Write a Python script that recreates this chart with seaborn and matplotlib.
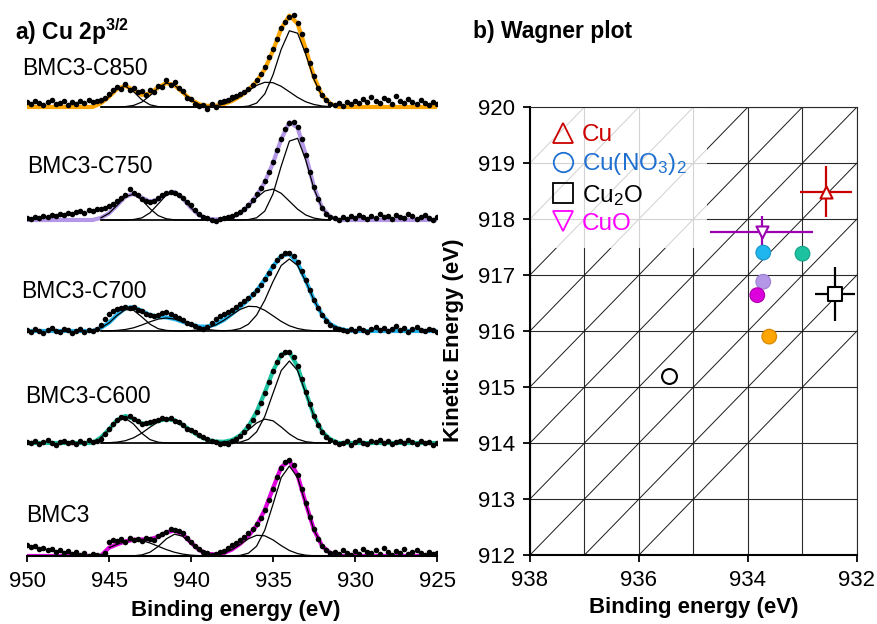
import numpy as np
import matplotlib
matplotlib.use("Agg")
import matplotlib.pyplot as plt
import seaborn as sns
from matplotlib.lines import Line2D
from matplotlib.patches import Rectangle

sns.set_theme(style="white")
plt.rcParams["font.family"] = ["Liberation Sans", "DejaVu Sans"]
plt.rcParams["mathtext.fontset"] = "custom"
plt.rcParams["mathtext.rm"] = "Liberation Sans"
plt.rcParams["mathtext.it"] = "Liberation Sans:italic"
plt.rcParams["mathtext.bf"] = "Liberation Sans:bold"
plt.rcParams["axes.unicode_minus"] = False
plt.rcParams["text.color"] = "black"
plt.rcParams["axes.labelcolor"] = "black"
plt.rcParams["xtick.color"] = "black"
plt.rcParams["ytick.color"] = "black"

# ======================= DATA : panel a (XPS Cu 2p3/2) =======================
spectra = ["BMC3-C850", "BMC3-C750", "BMC3-C700", "BMC3-C600", "BMC3"]
offsets = [449, 336, 225, 113, 0]
env_colors = ["#FFA500", "#B497E7", "#1FB5EE", "#1DC3A0", "#DD00DD"]

# measured points (0.25 eV steps, 950 -> 925 eV)
dots_c850 = [5, 3, 6, 4, 2, 5, 7, 3, 4, 6, 2, 5, 3, 6, 4, 7, 5, 6,
             7, 9, 13, 17, 20, 18, 23, 17, 19, 15,
             16, 12, 17, 15, 21, 20, 27, 22, 25, 19,
             16, 9, 8, 3, 1, 2, -2, 3, 0, 5,
             6, 7, 10, 11, 13, 15, 18, 22, 27, 33,
             40, 50, 58, 68, 79, 85, 90, 92, 84, 73,
             57, 44, 31, 19, 12, 7, 3,
             2, 4, 1, 5, 3, 6, 4, 8, 5, 10, 6, 4, 9, 7, 3, 11, 6, 4, 8, 5, 3, 7, 4, 2, 5, 3]
dots_c750 = [2, 1, 3, 2, 4, 3, 5, 4, 6, 5, 7, 6, 8, 9, 7, 10, 9, 11,
             11, 12, 14, 16, 19, 22, 25, 31, 27, 25,
             21, 19, 18, 19, 22, 25, 27, 28, 27, 25,
             22, 18, 15, 10, 6, 3, 2, 0, -1, 1,
             2, 3, 4, 6, 8, 11, 15, 20, 26, 32,
             39, 48, 58, 70, 81, 91, 97, 98, 93, 81,
             65, 48, 33, 21, 12, 6, 3,
             2, 0, 3, 1, 4, 2, 5, 3, 1, 4, 2, 6, 3, 4, 1, 5, 3, 2, 6, 4, 1, 3, 5, 2, 0, 3]
dots_c700 = [1, -1, 2, 0, -2, 1, 3, 0, -1, 2, 1, -2, 0, 2, -1, 1, 0, 2,
             6, 12, 17, 20, 22, 23, 24, 23, 24, 21,
             20, 17, 16, 15, 16, 18, 19, 17, 15, 13,
             11, 8, 7, 5, 3, 2, 4, 8, 12, 15,
             17, 19, 21, 24, 27, 30, 33, 37, 41, 46,
             52, 58, 65, 71, 75, 78, 78, 75, 69, 60,
             51, 41, 31, 23, 16, 10, 6, 3, 2, 1, 0,
             2, 0, 3, 1, -1, 2, 4, 1, 3, 0, 2, 5, 1, 3, -1, 2, 4, 1, 0, 2, 1, -1]
dots_c600 = [1, 0, 2, -1, 1, 3, 0, -2, 1, 2, 0, 1, -1, 2, 0, 3, 1, 2,
             4, 9, 14, 19, 23, 26, 25, 27, 24, 22,
             19, 20, 21, 22, 23, 25, 24, 25, 22, 21,
             18, 14, 13, 11, 8, 6, 4, 2, 1, -1,
             0, -1, 2, 4, 7, 11, 17, 23, 31, 40,
             50, 61, 72, 81, 88, 91, 91, 86, 77, 64,
             51, 39, 27, 18, 11, 6, 3,
             1, -1, 0, 2, -2, 1, 3, 0, -1, 2, 1, 3, 0, 2, -1, 1, 2, 0, 3, 1, -1, 2, 0, 1, -2, 0]
dots_bmc3 = [11, 9, 10, 7, 8, 6, 7, 4, 6, 3, 5, 2, 4, 1, 3, 0, 2, 1, 0, 3,
             14, 16, 15, 17, 14, 18, 16, 17, 15, 18,
             17, 16, 20, 22, 24, 27, 26, 25, 23, 18,
             14, 10, 7, 4, 3, 1, 2, 4, 5, 8,
             11, 13, 16, 19, 23, 27, 32, 38, 46, 56,
             67, 79, 88, 94, 96, 91, 81, 67, 53, 39,
             27, 17, 10, 6, 3,
             4, 2, 6, 3, 1, 5, 2, 7, 4, 3, 6, 2, 8, 4, 1, 5, 3, 7, 2, 4, 6, 3, 1, 4, 2, 3]
dots_all = [dots_c850, dots_c750, dots_c700, dots_c600, dots_bmc3]

# fitted components (0.5 eV steps starting at fit_start)
fit_start = [945.5, 945.5, 945.5, 945.5, 945.0]

comp_c850 = {
    "sat1": [3.7, 10.2, 18.2, 20.8, 15.3, 7.2, 2.2, 0.4, 0.1, 0,
             0, 0, 0, 0, 0, 0, 0, 0, 0, 0,
             0, 0, 0, 0, 0, 0, 0, 0, 0],
    "sat2": [0, 0, 0, 0.4, 1.6, 4.9, 11.4, 19.2, 23.9, 21.7,
             14.6, 7.2, 2.6, 0.7, 0.1, 0, 0, 0, 0, 0,
             0, 0, 0, 0, 0, 0, 0, 0, 0],
    "shoulder": [0, 0, 0, 0, 0, 0, 0, 0, 0, 0,
                 0, 0, 0.1, 0.4, 1.2, 2.9, 6.0, 10.6, 16.3, 21.6,
                 24.7, 24.3, 20.7, 15.2, 9.6, 5.2, 2.5, 1.0, 0.3],
    "main": [0, 0, 0, 0, 0, 0, 0, 0, 0, 0,
             0, 0, 0, 0, 0, 0, 0, 0.1, 0.9, 3.9,
             13.1, 32.1, 57.7, 76.2, 73.8, 52.6, 27.4, 10.6, 3.0],
}
comp_c750 = {
    "sat1": [2.1, 6.7, 14.8, 23.3, 25.8, 20.3, 11.3, 4.4, 1.2, 0.2,
             0, 0, 0, 0, 0, 0, 0, 0, 0, 0,
             0, 0, 0, 0, 0, 0, 0, 0, 0],
    "sat2": [0, 0, 0, 0.1, 0.5, 2.1, 7.2, 16.0, 25.1, 27.8,
             21.8, 12.1, 4.8, 1.3, 0.3, 0, 0, 0, 0, 0,
             0, 0, 0, 0, 0, 0, 0, 0, 0],
    "shoulder": [0, 0, 0, 0, 0, 0, 0, 0, 0, 0,
                 0, 0, 0, 0, 0.3, 1.0, 2.9, 7.0, 13.8, 22.2,
                 29.0, 30.9, 26.7, 18.8, 10.8, 5.0, 1.9, 0.6, 0.1],
    "main": [0, 0, 0, 0, 0, 0, 0, 0, 0, 0,
             0, 0, 0, 0, 0, 0, 0, 0, 0.4, 2.2,
             8.9, 26.1, 53.9, 78.9, 81.7, 59.8, 31.0, 11.4, 2.9],
}
comp_c700 = {
    "sat1": [3.0, 8.1, 15.7, 21.4, 20.7, 14.1, 6.8, 2.3, 0.6, 0.1,
             0, 0, 0, 0, 0, 0, 0, 0, 0, 0,
             0, 0, 0, 0, 0, 0, 0, 0, 0, 0,
             0],
    "sat2": [0.1, 0.2, 0.6, 1.5, 3.2, 6.0, 9.2, 11.9, 13.0, 11.9,
             9.2, 6.0, 3.2, 1.5, 0.6, 0.2, 0.1, 0, 0, 0,
             0, 0, 0, 0, 0, 0, 0, 0, 0, 0,
             0],
    "shoulder": [0, 0, 0, 0, 0, 0, 0, 0, 0, 0,
                 0, 0.4, 1.2, 2.9, 6.0, 10.6, 16.3, 21.6, 24.7, 24.3,
                 20.7, 15.2, 9.6, 5.2, 2.5, 1.0, 0.3, 0.1, 0, 0,
                 0],
    "main": [0, 0, 0, 0, 0, 0, 0, 0, 0, 0,
             0, 0, 0, 0, 0, 0.2, 0.7, 2.4, 6.8, 15.9,
             30.8, 49.4, 65.5, 72.0, 65.5, 49.4, 30.8, 15.9, 6.8, 2.4,
             0.7],
}
comp_c600 = {
    "sat1": [5.4, 13.3, 22.1, 24.8, 18.9, 9.7, 3.4, 0.8, 0.1, 0,
             0, 0, 0, 0, 0, 0, 0, 0, 0, 0,
             0, 0, 0, 0, 0, 0, 0, 0, 0],
    "sat2": [0.1, 0.3, 0.9, 2.3, 5.2, 9.9, 15.8, 21.2, 23.9, 22.7,
             18.1, 12.2, 6.9, 3.2, 1.3, 0.4, 0.1, 0, 0, 0,
             0, 0, 0, 0, 0, 0, 0, 0, 0],
    "shoulder": [0, 0, 0, 0, 0, 0, 0, 0, 0, 0,
                 0, 0, 0, 0, 0.2, 0.8, 2.6, 6.7, 13.1, 20.0,
                 23.9, 22.2, 16.0, 9.0, 3.9, 1.3, 0.4, 0.1, 0],
    "main": [0, 0, 0, 0, 0, 0, 0, 0, 0, 0,
             0, 0, 0, 0, 0, 0, 0.2, 0.9, 3.6, 11.1,
             26.6, 49.7, 72.4, 82.0, 72.4, 49.7, 26.6, 11.1, 3.6],
}
comp_bmc3 = {
    "sat1": [8.3, 11.7, 14.6, 16.0, 15.4, 13.0, 9.7, 6.4, 3.7, 1.9,
             0.8, 0.3, 0.1, 0, 0, 0, 0, 0, 0, 0,
             0, 0, 0, 0, 0, 0, 0, 0],
    "sat2": [0, 0, 0, 0.2, 1.1, 3.8, 9.5, 17.2, 21.8, 19.7,
             12.6, 5.7, 1.8, 0.4, 0.1, 0, 0, 0, 0, 0,
             0, 0, 0, 0, 0, 0, 0, 0],
    "shoulder": [0, 0, 0, 0, 0, 0, 0, 0, 0, 0,
                 0, 0, 0.3, 1.0, 2.8, 6.4, 11.6, 17.2, 20.7, 20.2,
                 16.1, 10.4, 5.5, 2.4, 0.8, 0.2, 0.1, 0],
    "main": [0, 0, 0, 0, 0, 0, 0, 0, 0, 0,
             0, 0, 0, 0, 0, 0.1, 0.6, 2.8, 9.8, 25.9,
             51.7, 78.4, 90.0, 78.4, 51.7, 25.9, 9.8, 2.8],
}
comps_all = [comp_c850, comp_c750, comp_c700, comp_c600, comp_bmc3]
xticks_a = [950, 945, 940, 935, 930, 925]

# ======================= DATA : panel b (Wagner plot) =======================
wag_be = [933.61, 933.72, 933.72, 933.00, 933.83]     # same order as spectra
wag_ke = [915.90, 916.88, 917.40, 917.38, 916.64]
wag_edge = ["#D98800", "#9E82D6", "#1898CC", "#14A587", "#B000B0"]

ref_names = ["Cu", "Cu(NO$_3$)$_2$", "Cu$_2$O", "CuO"]
ref_be = [932.57, 935.45, 932.40, 933.75]
ref_ke = [918.49, 915.20, 916.66, 917.77]
ref_be_err = [0.47, 0.0, 0.37, 0.95]
ref_ke_err = [0.46, 0.0, 0.48, 0.28]
ref_marker = ["^", "o", "s", "v"]
ref_color = ["#C80000", "#000000", "#000000", "#9A00B0"]
legend_color = ["#CC0000", "#1F70D0", "#000000", "#FF00FF"]
auger_params = [1848, 1849, 1850, 1851, 1852, 1853, 1854, 1855, 1856, 1857]

# ======================= FIGURE =======================
W, H = 877, 624
fig = plt.figure(figsize=(W / 100, H / 100), dpi=100)


def fx(px):
    return px / W


def fy(py):
    return 1 - py / H


# ---------- panel a ----------
axA = fig.add_axes([fx(27), fy(556), fx(437) - fx(27), fy(0) - fy(556)])
axA.set_xlim(950, 925)
axA.set_ylim(0, 556)
grid_full = np.arange(950.0, 924.75, -0.5)

for name, off, col, dots, fs, comps in zip(spectra, offsets, env_colors,
                                           dots_all, fit_start, comps_all):
    n = len(comps["main"])
    e_fit = fs - 0.5 * np.arange(n)
    env = np.zeros(len(grid_full))
    i0 = int(round((950.0 - fs) / 0.5))
    env[i0:i0 + n] = np.sum([np.array(v) for v in comps.values()], axis=0)
    sns.lineplot(x=grid_full, y=env + off, color=col, lw=3.0, ax=axA,
                 estimator=None, sort=False, zorder=2)
    for key, vals in comps.items():
        sns.lineplot(x=e_fit, y=np.array(vals) + off, color="black", lw=0.9,
                     ax=axA, estimator=None, sort=False, zorder=3)
    e_dots = np.linspace(950, 925, len(dots))
    sns.scatterplot(x=e_dots, y=np.array(dots) + off, color="black", s=16,
                    linewidth=0, ax=axA, zorder=5)

for s in ["left", "right", "top"]:
    axA.spines[s].set_visible(False)
axA.spines["bottom"].set_color("black")
axA.spines["bottom"].set_linewidth(1.5)
axA.set_yticks([])
axA.set_xticks(xticks_a)
axA.set_xticklabels([str(t) for t in xticks_a])
axA.tick_params(axis="x", direction="out", length=4.5, width=1.3, pad=6,
                labelsize=16, colors="black", bottom=True)
axA.set_xlabel("")
axA.set_ylabel("")

label_pos = [(22, 75), (27, 173), (21, 298), (25, 403), (26, 522)]
for name, (px, py) in zip(spectra, label_pos):
    fig.text(fx(px), fy(py), name, fontsize=16.5, va="baseline", ha="left",
             color="black")

fig.text(fx(15), fy(40), r"a) Cu 2p$^{\mathbf{3/2}}$", fontsize=16.5,
         fontweight="bold", va="baseline", ha="left")
fig.text(fx(236), fy(616), "Binding energy (eV)", fontsize=16,
         fontweight="bold", va="baseline", ha="center")

# ---------- panel b ----------
axB = fig.add_axes([fx(530), fy(555), fx(857) - fx(530), fy(107) - fy(555)])
axB.set_xlim(938, 932)
axB.set_ylim(912, 920)
axB.set_xticks([938, 936, 934, 932])
axB.set_xticks([937, 935, 933], minor=True)
axB.set_yticks([912, 913, 914, 915, 916, 917, 918, 919, 920])
axB.set_axisbelow(True)
axB.grid(True, which="both", color="#2a2a2a", lw=0.8)
for a in auger_params:
    axB.axline((938, a - 938), slope=-1, color="#1a1a1a", lw=0.7, zorder=1)

axB.add_patch(Rectangle((938, 917.48), -3.25, 2.52, facecolor="white",
                        edgecolor="none", alpha=0.8, zorder=2.5))

for be, ke, xe, ye, mk, c in zip(ref_be, ref_ke, ref_be_err, ref_ke_err,
                                 ref_marker, ref_color):
    if xe > 0 or ye > 0:
        axB.errorbar([be], [ke], xerr=[xe], yerr=[ye], fmt="none", ecolor=c,
                     elinewidth=1.6, capsize=0, zorder=4)
    size = 115 if mk == "o" else (100 if mk == "s" else 75)
    sns.scatterplot(x=[be], y=[ke], marker=mk, s=size, facecolor="white",
                    edgecolor=c, linewidth=1.5, ax=axB, zorder=5)

sns.scatterplot(x=wag_be, y=wag_ke, hue=spectra, palette=env_colors, s=110,
                edgecolor=wag_edge, linewidth=0.9, ax=axB, legend=False,
                zorder=6)

for s in ["left", "bottom"]:
    axB.spines[s].set_color("black")
    axB.spines[s].set_linewidth(1.5)
for s in ["right", "top"]:
    axB.spines[s].set_color("#2a2a2a")
    axB.spines[s].set_linewidth(0.8)
axB.tick_params(axis="both", which="major", direction="out", length=5,
                width=1.3, labelsize=16, colors="black", pad=6,
                bottom=True, left=True)
axB.tick_params(which="minor", length=0)
axB.set_xlabel("")
axB.set_ylabel("")

handles = [Line2D([], [], marker=m, ls="none", mfc="none", mec=c, ms=14,
                  mew=1.3) for m, c in zip(ref_marker, legend_color)]
leg = axB.legend(handles, ref_names, loc="upper left",
                 bbox_to_anchor=((553 - 530) / 327, 1 - (124 - 107) / 448),
                 frameon=False, fontsize=17.5, handlelength=0.85,
                 handletextpad=0.35, labelspacing=0.22, borderpad=0,
                 borderaxespad=0)
leg.set_zorder(7)
for t, c in zip(leg.get_texts(), legend_color):
    t.set_color(c)

fig.text(fx(473), fy(38), "b) Wagner plot", fontsize=16.5, fontweight="bold",
         va="baseline", ha="left")
fig.text(fx(694), fy(613), "Binding energy (eV)", fontsize=16,
         fontweight="bold", va="baseline", ha="center")
fig.text(fx(453), fy(340), "Kinetic Energy (eV)", fontsize=16,
         fontweight="bold", va="center", ha="center", rotation=90)

fig.savefig("out.png", dpi=100)
